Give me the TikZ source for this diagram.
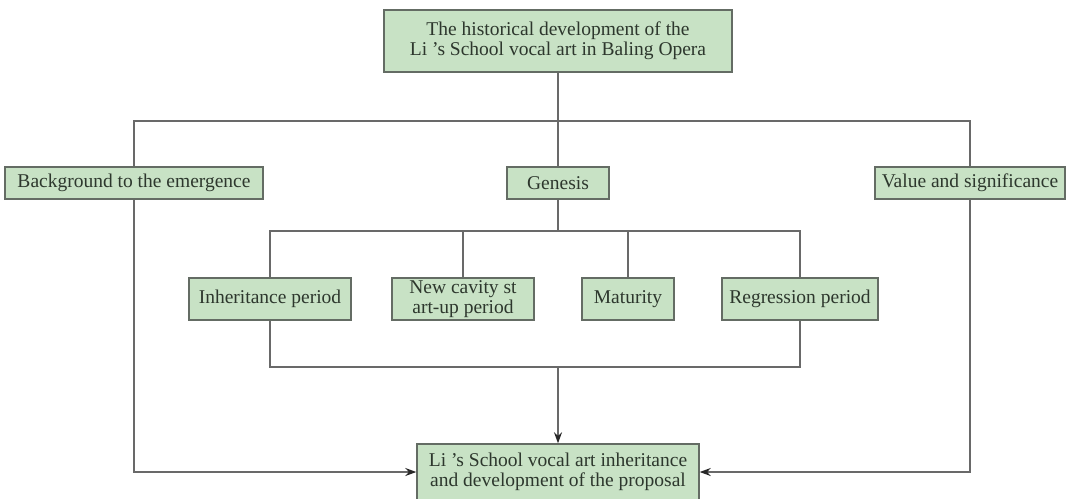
\documentclass[tikz,border=0pt]{standalone}
\usepackage{fontspec}
\setmainfont{Liberation Serif}
\usetikzlibrary{arrows.meta,positioning}

\definecolor{boxfill}{RGB}{200,226,197}
\definecolor{boxedge}{RGB}{100,108,100}
\definecolor{wire}{RGB}{105,105,105}
\definecolor{ink}{RGB}{45,55,45}
\definecolor{tip}{RGB}{40,40,40}

\tikzset{
	stage/.style={draw=boxedge,fill=boxfill,line width=1.4pt,text=ink,align=center,
		inner sep=0pt,font=\fontsize{19.5}{20}\selectfont},
	wire/.style={draw=wire,line width=1.4pt},
	feed/.style={wire,-{Stealth[length=11pt,width=8pt,color=tip]}}
}

\begin{document}
\begin{tikzpicture}[x=1pt,y=-1pt]
\useasboundingbox (0,0) rectangle (1067,498);

% TOP
\node[stage,minimum width=348pt,minimum height=62pt] (hist) at (558,41)
	{The historical development of the\\Li 's School vocal art in Baling Opera};
\coordinate (bus1) at (558,121);

% SECOND ROW
\node[stage,minimum width=258pt,minimum height=32pt] (bg) at (134,183) {Background to the emergence};
\node[stage,minimum width=102pt,minimum height=32pt] (gen) at (558,183) {Genesis};
\node[stage,minimum width=190pt,minimum height=32pt] (val) at (970,183) {Value and significance};
\coordinate (bus2) at (558,231);

% PERIODS
\node[stage,minimum width=162pt,minimum height=42pt] (inh) at (270,299) {Inheritance period};
\node[stage,minimum width=142pt,minimum height=42pt] (cav) at (463,299) {New cavity st\\art-up period};
\node[stage,minimum width=92pt,minimum height=42pt] (mat) at (628,299) {Maturity};
\node[stage,minimum width=156pt,minimum height=42pt] (reg) at (800,299) {Regression period};
\coordinate (bus3) at (558,367);

% BOTTOM
\node[stage,minimum width=282pt,minimum height=56pt] (prop) at (558,472)
	{Li 's School vocal art inheritance\\and development of the proposal};

% CONNECTORS
\draw[wire] (hist) -- (bus1);
\draw[wire] (bg.north) |- (bus1) -| (val.north);
\draw[wire] (bus1) -- (gen.north);
\draw[wire] (gen.south) -- (bus2);
\draw[wire] (inh.north) |- (bus2) -| (reg.north);
\draw[wire] (cav.north) -- (cav.north |- bus2);
\draw[wire] (mat.north) -- (mat.north |- bus2);
\draw[wire] (inh.south) |- (bus3) -| (reg.south);
\draw[feed] (bus3) -- (prop.north);
\draw[feed] (bg.south) |- (prop.west);
\draw[feed] (val.south) |- (prop.east);

\end{tikzpicture}
\end{document}
